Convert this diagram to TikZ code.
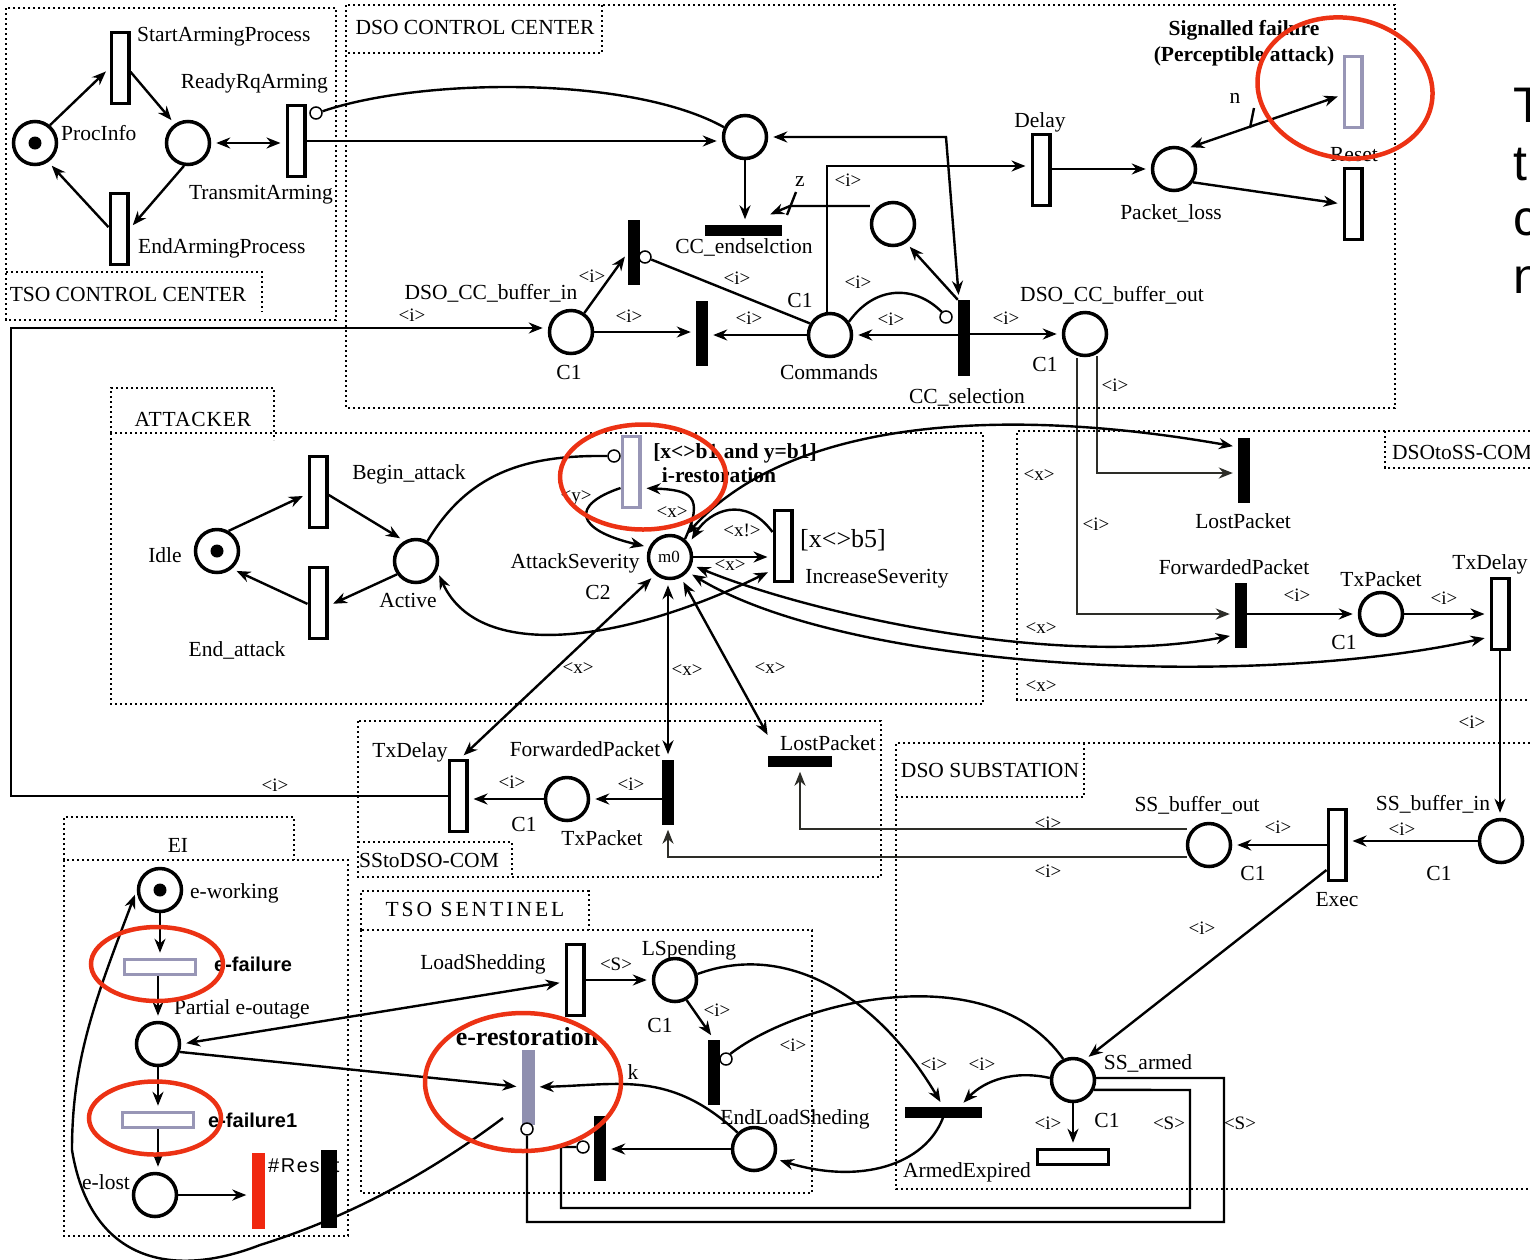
\documentclass[tikz,border=0pt]{standalone}
\usepackage{fontspec}
\setmainfont{Liberation Serif}
\newfontfamily\labelsans{Liberation Sans}
\usepackage{xcolor}
\definecolor{ringred}{RGB}{236,50,20}
\definecolor{barred}{RGB}{240,40,16}
\definecolor{resgray}{RGB}{152,150,182}
\definecolor{resfill}{RGB}{143,143,175}
\definecolor{wiregray}{RGB}{45,45,40}
\usetikzlibrary{arrows.meta, positioning, shapes.geometric, calc}
\tikzset{
  zone/.style={line width=2.6pt, dash pattern=on 2.4pt off 2.6pt},
  place/.style={circle, draw, line width=3.5pt, minimum size=43pt, inner sep=0pt},
  token/.style={circle, fill=black, minimum size=13pt, inner sep=0pt},
  trans/.style={rectangle, draw, fill=white, line width=3.5pt, minimum width=17.5pt, minimum height=71pt, inner sep=0pt},
  htrans/.style={trans, minimum width=71pt, minimum height=15pt},
  graytrans/.style={trans, draw=resgray},
  grayhtrans/.style={htrans, draw=resgray},
  bar/.style={rectangle, fill=black, minimum width=12pt, minimum height=65pt, inner sep=0pt},
  hbar/.style={rectangle, fill=black, minimum width=77pt, minimum height=11pt, inner sep=0pt},
  inhib/.style={circle, draw, fill=white, line width=1.5pt, minimum size=12pt, inner sep=0pt},
  flow/.style={line width=2.4pt, -{Stealth[length=14pt,width=11pt]}, shorten >=5pt},
  flowboth/.style={line width=2.4pt, {Stealth[length=14pt,width=11pt]}-{Stealth[length=14pt,width=11pt]}, shorten >=5pt, shorten <=5pt},
  wire/.style={line width=2.4pt},
  grayflow/.style={flow, draw=wiregray},
  lbl/.style={font=\fontsize{21.5}{24}\selectfont, inner sep=0pt, yshift=-2pt},
  arclbl/.style={font=\fontsize{19}{20}\selectfont, inner sep=0pt},
  boldlbl/.style={font=\fontsize{21.5}{24}\selectfont\bfseries, inner sep=0pt, yshift=-2pt},
  sanslbl/.style={font=\fontsize{20}{24}\selectfont\labelsans\bfseries, inner sep=0pt},
  redring/.style={ellipse, draw=ringred, line width=4.5pt, inner sep=0pt},
}
\begin{document}
\begin{tikzpicture}[x=1pt,y=-1pt]
  \useasboundingbox (0,0) rectangle (1530,1259);

  \draw[zone] (6,8) rectangle (336,320);
  \draw[zone] (6,272) -- (262,272) -- (262,312);
  \draw[zone] (346,5) rectangle (1395,408);
  \draw[zone] (602,5) -- (602,53) -- (346,53);
  \draw[zone] (111,433) rectangle (983,704);
  \draw[zone] (111,433) -- (111,388) -- (274,388) -- (274,440);
  \draw[zone] (1530,431) -- (1017,431) -- (1017,700) -- (1530,700);
  \draw[zone] (1385,431) -- (1385,468) -- (1530,468);
  \draw[zone] (358,721) rectangle (881,877);
  \draw[zone] (358,842) -- (512,842) -- (512,877);
  \draw[zone] (1530,743) -- (896,743) -- (896,1189) -- (1530,1189);
  \draw[zone] (1084,743) -- (1084,797) -- (896,797);
  \draw[zone] (361,930) rectangle (812,1193);
  \draw[zone] (361,930) -- (361,891) -- (589,891) -- (589,930);
  \draw[zone] (64,860) rectangle (348,1236);
  \draw[zone] (64,860) -- (64,817) -- (294,817) -- (294,860);

  \node[place] (procinfo) at (35,143) {};
  \node[token] (procinfotok) at (35,143) {};
  \node[place] (ready) at (188,143) {};
  \node[trans] (startarm) at (120,68) {};
  \node[trans] (endarm) at (119,229) {};
  \node[trans] (txarm) at (296,141) {};
  \node[inhib] (txinhib) at (316,113) {};

  \node[place] (ccentry) at (745,137) {};
  \node[hbar] (ccend) at (743,230) {};
  \node[place] (ccwait) at (893,224) {};
  \node[trans] (delay) at (1041,170) {};
  \node[place] (packetloss) at (1174,169) {};
  \node[graytrans] (signalled) at (1353,92) {};
  \node[trans] (resetcc) at (1353,204) {};
  \node[place] (bufferin) at (571,332) {};
  \node[bar] (barupper) at (634,252) {};
  \node[inhib] (upperinhib) at (645,257) {};
  \node[bar] (barlower) at (702,333) {};
  \node[place] (commands) at (830,335) {};
  \node[bar, minimum height=76pt] (ccsel) at (964,338) {};
  \node[inhib] (selinhib) at (946,317) {};
  \node[place] (bufferout) at (1085,334) {};

  \node[place] (idle) at (217,551) {};
  \node[token] (idletok) at (217,551) {};
  \node[trans] (beginatt) at (318,492) {};
  \node[trans] (endatt) at (318,603) {};
  \node[place] (active) at (416,561) {};
  \node[graytrans] (irest) at (631,472) {};
  \node[inhib] (irestinhib) at (614,456) {};
  \node[place] (severity) at (670,557) {};
  \node[trans] (increase) at (783,546) {};

  \node[bar] (lostdss) at (1244,470) {};
  \node[bar] (fwddss) at (1241,615) {};
  \node[place] (txpktdss) at (1381,614) {};
  \node[trans] (txdelaydss) at (1500,614) {};

  \node[trans] (txdelaysds) at (458,796) {};
  \node[place] (txpktsds) at (567,799) {};
  \node[bar] (fwdsds) at (668,792) {};
  \node[hbar, minimum width=64pt] (lostsds) at (800,761) {};

  \node[place] (ssout) at (1209,845) {};
  \node[trans] (exec) at (1337,845) {};
  \node[place] (ssin) at (1501,841) {};
  \node[place] (ssarmed) at (1073,1080) {};
  \node[htrans] (ssexpire) at (1073,1157) {};
  \node[hbar] (armexp) at (943,1112) {};

  \node[trans] (loadshed) at (575,980) {};
  \node[place] (lspending) at (675,980) {};
  \node[bar] (barlsp) at (714,1072) {};
  \node[inhib] (lspinhib) at (726,1059) {};
  \node[place] (endload) at (754,1149) {};
  \node[bar] (barend) at (600,1148) {};
  \node[inhib] (endinhib) at (583,1147) {};
  \node[rectangle, fill=resfill, minimum width=13pt, minimum height=75pt, inner sep=0pt] (erest) at (528,1087) {};
  \node[inhib] (erestinhib) at (527,1129) {};

  \node[place] (eworking) at (160,890) {};
  \node[token] (eworktok) at (160,890) {};
  \node[grayhtrans] (efail) at (160,967) {};
  \node[place] (eoutage) at (158,1044) {};
  \node[grayhtrans] (efailone) at (158,1120) {};
  \node[place] (elost) at (155,1195) {};
  \node[rectangle, fill=barred, minimum width=13pt, minimum height=76pt, inner sep=0pt] (redbar) at (258,1191) {};
  \node[font=\fontsize{20}{24}\selectfont\labelsans\addfontfeature{LetterSpace=8}, inner sep=0pt, anchor=west] (treset) at (268,1166) {\#Reset};
  \node[rectangle, fill=black, minimum width=16pt, minimum height=78pt, inner sep=0pt] (blackbar) at (329,1189) {};

  \coordinate (restfree) at (503,1118);
  \coordinate (outleft) at (1077,358);
  \coordinate (outright) at (1097,356);
  \coordinate (cmdup) at (827,313);
  \coordinate (ssoutup) at (1187,829);
  \coordinate (ssoutlow) at (1187,857);

  \draw[flow] (procinfo.50) -- (startarm.west);
  \draw[flow] (startarm.-20) -- (ready.125);
  \draw[flowboth] (ready.east) -- (ready.east -| txarm.west);
  \draw[flow] (ready.-100) -- (endarm.east);
  \draw[flow] (endarm.170) -- (procinfo.-55);
  \draw[wire] (txinhib.15) .. controls (420,78) and (630,75) .. (ccentry.155);
  \draw[flow] (txarm.east) -- (ccentry.west |- txarm.east);

  \draw[flow] (ccentry.south) -- (ccentry.south |- ccend.north);
  \draw[flow] (ccwait.west |- 0,206) -- (790,206) -- ([xshift=-16pt,yshift=8pt]ccend.north east);
  \draw[flowboth] (ccentry.east) -- (946,137) -- ([xshift=-5pt]ccsel.north);
  \draw[flow] (cmdup) -- (827,166) -- (delay.west |- 0,166);
  \draw[flow] (delay.east |- packetloss.west) -- (packetloss.west);
  \draw[flowboth] (packetloss.60) -- (signalled.195);
  \draw[flow] (packetloss.-35) -- (resetcc.west);
  \draw[wire] (upperinhib) -- (commands.150);
  \draw[flow] (bufferin.55) -- (barupper.-175);
  \draw[flow] (bufferin.east) -- (bufferin.east -| barlower.west);
  \draw[flow] (commands.west) -- (commands.west -| barlower.east);
  \draw[flow] (commands.east -| ccsel.west) -- (commands.east);
  \draw[flow] (ccsel.east |- bufferout.west) -- (bufferout.west);
  \draw[wire] (commands.35) .. controls (875,285) and (915,285) .. (selinhib.130);
  \draw[flow] (ccsel.north west) -- (ccwait.-55);
  \draw[flow, draw=wiregray] (outleft) -- (1077,614) -- (1077,614 -| fwddss.west);
  \draw[flow, draw=wiregray] (outright) -- (1097,473) -- (1097,473 -| lostdss.west);
  \draw[wire] (1250,128) -- (1254,108);
  \draw[wire] (787,215) -- (796,192);

  \draw[flow] (idle.60) -- (beginatt.-170);
  \draw[flow] (beginatt.-15) -- (active.120);
  \draw[flow] (active.-145) -- (endatt.-15);
  \draw[flow] (endatt.-175) -- (idle.-50);
  \draw[wire] (active.60) .. controls (470,470) and (530,455) .. (irestinhib.west);
  \draw[flow] ([yshift=-16pt]irest.west) .. controls (570,505) and (575,530) .. (severity.155);
  \draw[flow] (severity.50) .. controls (705,495) and (690,490) .. ([yshift=-16pt]irest.east);
  \draw[flow] ([yshift=14pt]increase.west) .. controls (745,495) and (710,510) .. (severity.35);
  \draw[flow] (severity.east) -- (severity.east -| increase.west);
  \draw[flowboth] (severity.55) .. controls (790,420) and (1000,405) .. ([yshift=23pt]lostdss.west);
  \draw[flowboth] (severity.-20) .. controls (800,610) and (1050,670) .. ([yshift=-20pt]fwddss.west);
  \draw[flowboth] (severity.-40) .. controls (850,670) and (1250,690) .. ([yshift=-23pt]txdelaydss.west);
  \draw[flowboth] (active.-25) .. controls (480,665) and (630,640) .. ([yshift=-24pt]increase.west);
  \draw[flowboth] ([xshift=2pt]txdelaysds.north) -- (severity.-130);
  \draw[flowboth] (fwdsds.north) -- (severity.south -| fwdsds.north);
  \draw[flowboth] ([xshift=-30pt,yshift=16pt]lostsds.north) -- (severity.-62);

  \draw[flow] (fwddss.east |- txpktdss.west) -- (txpktdss.west);
  \draw[flow] (txpktdss.east) -- (txpktdss.east -| txdelaydss.west);
  \draw[flow] (txdelaydss.south) -- (ssin.north -| txdelaydss.south);
  \draw[flow] (fwdsds.west |- txpktsds.east) -- (txpktsds.east);
  \draw[flow] (txpktsds.west) -- (txpktsds.west -| txdelaysds.east);
  \draw[flow] (txdelaysds.west) -- (11,796) -- (11,328) -- (bufferin.west |- 0,328);
  \draw[grayflow] (ssoutup) -- (800,829) -- (lostsds.south);
  \draw[grayflow] (ssoutlow) -- (668,857) -- (fwdsds.south);
  \draw[flow] (exec.west) -- (ssout.east);
  \draw[flow] (ssin.west) -- (ssin.west -| exec.east);
  \draw[flow] ([yshift=-25pt]exec.west) -- (ssarmed.60);
  \draw[flow] (ssarmed.south) -- (ssexpire.north);
  \draw[wire] (ssarmed.5) -- (1224,1078) -- (1224,1222) -- (527,1222) -- (erestinhib.south);
  \draw[wire] (ssarmed.-25) -- (1190,1090) -- (1190,1208) -- (561,1208) -- (561,1147) -- (endinhib.west);

  \draw[flow] (loadshed.east |- lspending.west) -- (lspending.west);
  \draw[flow] (lspending.-60) -- (barlsp.north);
  \draw[wire] (lspinhib.50) .. controls (800,1000) and (990,955) .. (ssarmed.115);
  \draw[flow] (lspending.15) .. controls (790,940) and (880,1000) .. (armexp.north);
  \draw[flow] (ssarmed.175) .. controls (1015,1070) and (985,1080) .. ([xshift=17pt]armexp.north);
  \draw[flow] (armexp.south) .. controls (925,1165) and (860,1185) .. (endload.-25);
  \draw[flow] (endload.west) -- (endload.west -| barend.east);
  \draw[flow] (endload.135) .. controls (670,1070) and (620,1085) .. (erest.east);

  \draw[flow] (eworking.south) -- (efail.north);
  \draw[flow] (efail.south -| eoutage.north) -- (eoutage.north);
  \draw[flow] (eoutage.south) -- (efailone.north);
  \draw[flow] (efailone.south) -- (elost.north -| efailone.south);
  \draw[flow] (elost.east) -- (elost.east -| redbar.west);
  \draw[flowboth] (eoutage.east) -- ([yshift=-2pt]loadshed.west);
  \draw[flow] (eoutage.-20) -- (erest.west);
  \draw[flow] (restfree) .. controls (420,1180) and (340,1220) .. (260,1245)
    .. controls (170,1280) and (90,1260) .. (72,1150)
    .. controls (72,1060) and (95,1000) .. (eworking.west);

  \node[lbl, anchor=west] (tstart) at (137,35) {StartArmingProcess};
  \node[lbl, anchor=east] (tready) at (328,81) {ReadyRqArming};
  \node[lbl, anchor=west] (tproc) at (61,131) {ProcInfo};
  \node[lbl, anchor=east] (ttransmit) at (333,193) {TransmitArming};
  \node[lbl, anchor=west] (tendarm) at (138,246) {EndArmingProcess};
  \node[lbl] (ttsocc) at (128,292) {TSO CONTROL CENTER};
  \node[lbl] (tdsocc) at (475,25) {DSO CONTROL CENTER};
  \node[lbl] (tdsin) at (491,291) {DSO\_CC\_buffer\_in};
  \node[lbl] (tcone) at (569,370) {C1};
  \node[lbl] (tcmd) at (829,370) {Commands};
  \node[lbl] (tctwo) at (800,298) {C1};
  \node[lbl] (tsel) at (967,395) {CC\_selection};
  \node[lbl] (tdsout) at (1112,293) {DSO\_CC\_buffer\_out};
  \node[lbl] (tcthree) at (1045,362) {C1};
  \node[lbl] (tendsel) at (744,245) {CC\_endselction};
  \node[lbl] (tz) at (800,180) {z};
  \node[lbl] (tdelay) at (1040,120) {Delay};
  \node[lbl] (tpacket) at (1171,211) {Packet\_loss};
  \node[lbl] (tn) at (1235,96) {n};
  \node[lbl] (tresetcc) at (1354,153) {Reset};
  \node[boldlbl] (tsig) at (1244,28) {Signalled failure};
  \node[boldlbl] (tperc) at (1244,54) {(Perceptible attack)};

  \node[lbl, font=\fontsize{21.5}{24}\selectfont\addfontfeature{LetterSpace=4}] (tatt) at (193,417) {ATTACKER};
  \node[lbl] (tidle) at (165,553) {Idle};
  \node[lbl] (tbegin) at (409,472) {Begin\_attack};
  \node[lbl] (tendatt) at (237,648) {End\_attack};
  \node[lbl] (tactive) at (408,598) {Active};
  \node[lbl] (tsev) at (575,561) {AttackSeverity};
  \node[lbl] (ctwo) at (598,590) {C2};
  \node[font=\fontsize{17}{20}\selectfont, inner sep=0pt] (tmzero) at (669,557) {m0};
  \node[boldlbl] (tcond) at (735,451) {[x<>b1 and y=b1]};
  \node[boldlbl] (tires) at (719,473) {i-restoration};
  \node[font=\fontsize{26}{28}\selectfont, inner sep=0pt] (tbfive) at (843,540) {[x<>b5]};
  \node[lbl] (tincr) at (877,577) {IncreaseSeverity};

  \node[lbl] (tdss) at (1462,450) {DSOtoSS-COM};
  \node[lbl] (tlostd) at (1243,519) {LostPacket};
  \node[lbl] (tfwdd) at (1234,565) {ForwardedPacket};
  \node[lbl] (ttxpd) at (1381,577) {TxPacket};
  \node[lbl] (ttxdd) at (1490,562) {TxDelay};
  \node[lbl] (cfour) at (1344,640) {C1};

  \node[lbl] (ttxds) at (410,750) {TxDelay};
  \node[lbl] (tfwds) at (585,747) {ForwardedPacket};
  \node[lbl] (tlosts) at (828,741) {LostPacket};
  \node[lbl] (ttxps) at (602,836) {TxPacket};
  \node[lbl] (cfive) at (524,822) {C1};
  \node[lbl] (tsds) at (429,858) {SStoDSO-COM};

  \node[lbl] (tsub) at (990,768) {DSO SUBSTATION};
  \node[lbl] (tssout) at (1197,803) {SS\_buffer\_out};
  \node[lbl] (tssin) at (1433,802) {SS\_buffer\_in};
  \node[lbl] (csix) at (1253,871) {C1};
  \node[lbl] (cseven) at (1439,871) {C1};
  \node[lbl] (texec) at (1337,898) {Exec};
  \node[lbl] (tarmed) at (1148,1061) {SS\_armed};
  \node[lbl] (ceight) at (1107,1118) {C1};
  \node[lbl] (texp) at (967,1170) {ArmedExpired};

  \node[lbl, font=\fontsize{21.5}{24}\selectfont\addfontfeature{LetterSpace=14}] (tsent) at (475,907) {TSO SENTINEL};
  \node[lbl] (tshed) at (483,962) {LoadShedding};
  \node[lbl] (tlsp) at (689,948) {LSpending};
  \node[lbl] (cnine) at (660,1023) {C1};
  \node[lbl] (tendl) at (795,1117) {EndLoadSheding};
  \node[lbl] (tk) at (633,1070) {k};
  \node[boldlbl, font=\fontsize{26}{28}\selectfont\bfseries] (terest) at (527,1035) {e-restoration};

  \node[lbl] (tei) at (178,843) {EI};
  \node[lbl, anchor=west] (twork) at (190,891) {e-working};
  \node[sanslbl, anchor=west] (tfail) at (214,964) {e-failure};
  \node[lbl, anchor=west] (tout) at (174,1007) {Partial e-outage};
  \node[sanslbl, anchor=west] (tfailone) at (208,1120) {e-failure1};
  \node[lbl] (telost) at (106,1180) {e-lost};

  \node[arclbl] (ai) at (412,315) {<i>};
  \node[arclbl] (aii) at (592,276) {<i>};
  \node[arclbl] (aiii) at (629,316) {<i>};
  \node[arclbl] (aiv) at (737,278) {<i>};
  \node[arclbl] (av) at (749,318) {<i>};
  \node[arclbl] (avi) at (858,282) {<i>};
  \node[arclbl] (avii) at (891,319) {<i>};
  \node[arclbl] (aviii) at (1006,318) {<i>};
  \node[arclbl] (aix) at (848,180) {<i>};
  \node[arclbl] (ax) at (1115,385) {<i>};
  \node[arclbl] (axi) at (1096,524) {<i>};
  \node[arclbl] (axii) at (1297,595) {<i>};
  \node[arclbl] (axiii) at (1444,598) {<i>};
  \node[arclbl] (axiv) at (1472,722) {<i>};
  \node[arclbl] (axv) at (275,785) {<i>};
  \node[arclbl] (axvi) at (512,782) {<i>};
  \node[arclbl] (axvii) at (631,784) {<i>};
  \node[arclbl] (axviii) at (1048,823) {<i>};
  \node[arclbl] (axix) at (1048,871) {<i>};
  \node[arclbl] (axx) at (1278,827) {<i>};
  \node[arclbl] (axxi) at (1402,829) {<i>};
  \node[arclbl] (axxii) at (1202,928) {<i>};
  \node[arclbl] (axxiii) at (717,1010) {<i>};
  \node[arclbl] (axxiv) at (793,1045) {<i>};
  \node[arclbl] (axxv) at (934,1064) {<i>};
  \node[arclbl] (axxvi) at (982,1064) {<i>};
  \node[arclbl] (axxvii) at (1048,1123) {<i>};
  \node[arclbl] (bi) at (578,668) {<x>};
  \node[arclbl] (bii) at (687,670) {<x>};
  \node[arclbl] (biii) at (770,668) {<x>};
  \node[arclbl] (biv) at (672,512) {<x>};
  \node[arclbl] (bv) at (730,565) {<x>};
  \node[arclbl] (bvi) at (742,530) {<x!>};
  \node[arclbl] (bvii) at (576,498) {<y>};
  \node[arclbl] (bviii) at (1039,475) {<x>};
  \node[arclbl] (bix) at (1041,628) {<x>};
  \node[arclbl] (bx) at (1041,686) {<x>};
  \node[arclbl] (ci) at (616,964) {<S>};
  \node[arclbl] (cii) at (1169,1123) {<S>};
  \node[arclbl] (ciii) at (1240,1123) {<S>};

  \node[font=\fontsize{50}{50}\selectfont\labelsans, inner sep=0pt, anchor=west] (sidea) at (1513,105) {T};
  \node[font=\fontsize{50}{50}\selectfont\labelsans, inner sep=0pt, anchor=west] (sideb) at (1513,165) {t};
  \node[font=\fontsize{50}{50}\selectfont\labelsans, inner sep=0pt, anchor=west] (sidec) at (1513,222) {c};
  \node[font=\fontsize{50}{50}\selectfont\labelsans, inner sep=0pt, anchor=west] (sided) at (1513,280) {n};

  \node[redring, minimum width=176pt, minimum height=140pt, rotate=-10] (ringsig) at (1345,88) {};
  \node[redring, minimum width=166pt, minimum height=105pt] (ringires) at (643,477) {};
  \node[redring, minimum width=132pt, minimum height=74pt] (ringfail) at (157,964) {};
  \node[redring, minimum width=132pt, minimum height=73pt] (ringfailone) at (155,1118) {};
  \node[redring, minimum width=196pt, minimum height=138pt] (ringeres) at (523,1082) {};
\end{tikzpicture}
\end{document}
